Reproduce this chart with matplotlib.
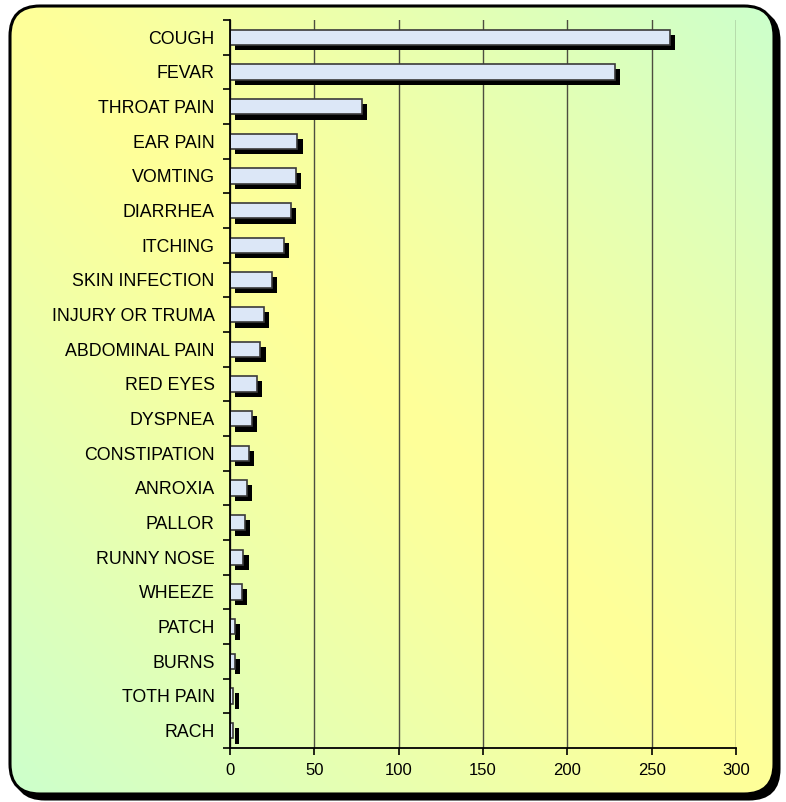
import numpy as np
import matplotlib
matplotlib.use("Agg")
import matplotlib.pyplot as plt
from matplotlib.patches import FancyBboxPatch
import matplotlib.patheffects as pe

plt.rcParams['font.family'] = ['Liberation Sans', 'DejaVu Sans']

# Symptoms and number of cases
symptoms = ["COUGH", "FEVAR", "THROAT PAIN", "EAR PAIN", "VOMTING", "DIARRHEA",
            "ITCHING", "SKIN INFECTION", "INJURY OR TRUMA", "ABDOMINAL PAIN",
            "RED EYES", "DYSPNEA", "CONSTIPATION", "ANROXIA", "PALLOR",
            "RUNNY NOSE", "WHEEZE", "PATCH", "BURNS", "TOTH PAIN", "RACH"]
cases = [261, 228, 78, 40, 39, 36, 32, 25, 20, 18, 16, 13, 11, 10, 9, 8, 7,
         3, 3, 2, 2]
x_ticks = [0, 50, 100, 150, 200, 250, 300]

W, H = 786, 802
fig = plt.figure(figsize=(W / 100, H / 100), dpi=100)
fig.patch.set_facecolor('white')

# background panel: rounded box with a diagonal yellow/green gradient
bg = fig.add_axes([0, 0, 1, 1])
bg.set_xlim(0, W)
bg.set_ylim(H, 0)
bg.axis('off')

yellow = np.array([1.0, 1.0, 0.60])
green = np.array([0.80, 1.0, 0.80])
gx, gy = np.meshgrid(np.linspace(0, 1, 400), np.linspace(0, 1, 400))
u = (np.abs(gx - gy) ** 1.15)[..., None]
grad = yellow * (1 - u) + green * u

box_kw = dict(boxstyle="round,pad=0,rounding_size=30", lw=2.2)
shadow = FancyBboxPatch((15, 11), 764, 788, fc='black', ec='black', **box_kw)
bg.add_patch(shadow)
frame = FancyBboxPatch((10, 6), 764, 788, fc='none', ec='black', zorder=3, **box_kw)
bg.add_patch(frame)
img = bg.imshow(grad, extent=(10, 774, 794, 6), zorder=2, aspect='auto')
clip = FancyBboxPatch((10, 6), 764, 788, fc='none', ec='none', **box_kw)
bg.add_patch(clip)
img.set_clip_path(clip)

# bar chart
ax = fig.add_axes([230 / W, 1 - 748 / H, 506 / W, 728 / H])
ax.patch.set_alpha(0)
pos = np.arange(len(symptoms))
bars = ax.barh(pos, cases, height=0.45, color='#dce7f7', edgecolor='#3a3a3a',
               linewidth=1.2, zorder=3)
for b in bars:
    b.set_path_effects([pe.SimplePatchShadow(offset=(3.8, -3.8),
                                             shadow_rgbFace='black', alpha=1.0),
                        pe.Normal()])

ax.set_ylim(len(symptoms) - 0.5, -0.5)
ax.set_xlim(0, 300)
ax.set_yticks(pos)
ax.set_yticklabels(symptoms, fontsize=12.8)
ax.set_yticks(np.arange(len(symptoms) + 1) - 0.5, minor=True)
ax.tick_params(axis='y', which='major', length=0, pad=11)
ax.tick_params(axis='y', which='minor', length=5, width=1.2, direction='out')
ax.set_xticks(x_ticks)
ax.set_xticklabels([str(t) for t in x_ticks], fontsize=12)
ax.tick_params(axis='x', length=5, width=1.2, direction='out', pad=6)

ax.grid(axis='x', color='#4d4d40', linewidth=1.0, zorder=1)
ax.set_axisbelow(True)
for s in ['top', 'right']:
    ax.spines[s].set_visible(False)
for s in ['left', 'bottom']:
    ax.spines[s].set_linewidth(1.3)
    ax.spines[s].set_zorder(4)

fig.savefig("out.png", dpi=100)
